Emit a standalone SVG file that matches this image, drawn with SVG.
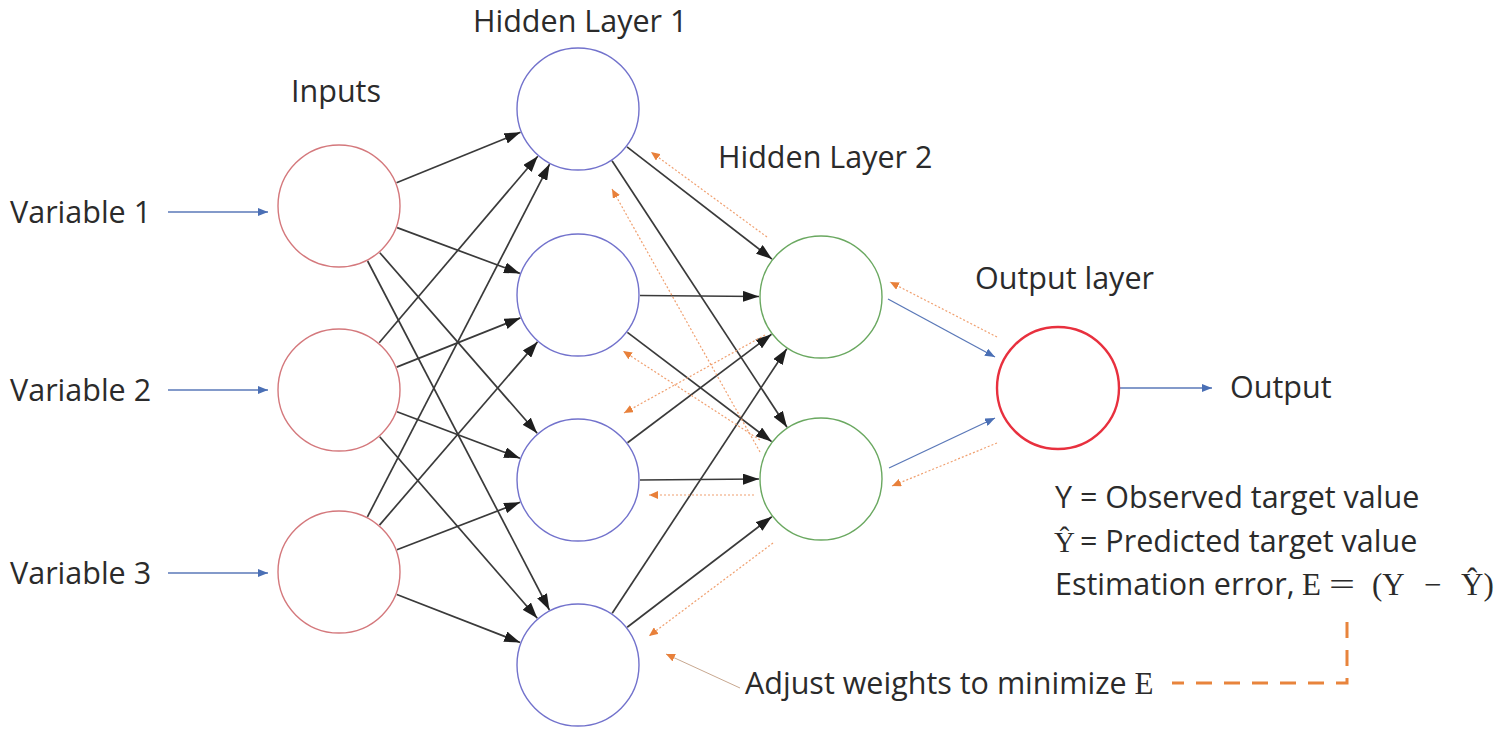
<svg xmlns="http://www.w3.org/2000/svg" width="1500" height="730" viewBox="0 0 1500 730">
<defs>
<style>
.t{font-family:"Open Sans","Liberation Sans",sans-serif;font-size:30.5px;fill:#2b2b2b}
.m{font-family:"Liberation Serif","DejaVu Serif",serif;font-size:31px;fill:#2b2b2b}
.in{fill:#fff;stroke:#d4787c;stroke-width:1.4}
.h1{fill:#fff;stroke:#7272cc;stroke-width:1.4}
.h2{fill:#fff;stroke:#6aa860;stroke-width:1.4}
.out{fill:#fff;stroke:#e8303e;stroke-width:2.4}
.bk{stroke:#3a3a3a;stroke-width:1.7;fill:none;marker-end:url(#ab)}
.bl{stroke:#5a78b8;stroke-width:1.3;fill:none;marker-end:url(#abl)}
.or{stroke:#f0a070;stroke-width:1.2;stroke-dasharray:2 2;fill:none;marker-end:url(#aor)}
.ors{stroke:#c8a890;stroke-width:1;fill:none;marker-end:url(#aor)}
.big{stroke:#e8843c;stroke-width:3;stroke-dasharray:16 12;fill:none}
</style>
<marker id="ab" markerUnits="userSpaceOnUse" markerWidth="16" markerHeight="11" refX="16" refY="5.5" orient="auto"><path d="M0,0 L16,5.5 L0,11 z" fill="#1e1e1e"/></marker>
<marker id="abl" markerUnits="userSpaceOnUse" markerWidth="10" markerHeight="8" refX="10" refY="4" orient="auto"><path d="M0,0 L10,4 L0,8 z" fill="#4a6fb5"/></marker>
<marker id="aor" markerUnits="userSpaceOnUse" markerWidth="9" markerHeight="8" refX="9" refY="4" orient="auto"><path d="M0,0 L9,4 L0,8 z" fill="#e8803a"/></marker>
</defs>
<rect width="1500" height="730" fill="#fff"/>

<g id="connectors">
<line class="bl" x1="168" y1="212" x2="268" y2="212"/>
<line class="bl" x1="168" y1="390" x2="268" y2="390"/>
<line class="bl" x1="168" y1="573" x2="268" y2="573"/>
<line class="bk" x1="396.5" y1="182.7" x2="520.5" y2="132.3"/>
<line class="bk" x1="397.1" y1="227.6" x2="519.9" y2="273.4"/>
<line class="bk" x1="379.8" y1="252.7" x2="537.2" y2="433.3"/>
<line class="bk" x1="367.6" y1="261" x2="549.4" y2="610"/>
<line class="bk" x1="379.2" y1="342.8" x2="537.8" y2="156.2"/>
<line class="bk" x1="396.6" y1="367.1" x2="520.4" y2="317.9"/>
<line class="bk" x1="397" y1="411.8" x2="520" y2="458.2"/>
<line class="bk" x1="379.7" y1="436.8" x2="537.3" y2="618.2"/>
<line class="bk" x1="367.4" y1="516.9" x2="549.6" y2="164.1"/>
<line class="bk" x1="379.5" y1="525.1" x2="537.5" y2="341.9"/>
<line class="bk" x1="396.9" y1="549.7" x2="520.1" y2="502.3"/>
<line class="bk" x1="396.8" y1="594.5" x2="520.2" y2="642.5"/>
<line class="bk" x1="627" y1="146.9" x2="772" y2="259.1"/>
<line class="bk" x1="612" y1="160.8" x2="787" y2="427.2"/>
<line class="bk" x1="640" y1="295.5" x2="759" y2="296.5"/>
<line class="bk" x1="627.4" y1="332.4" x2="771.6" y2="441.6"/>
<line class="bk" x1="627.5" y1="442.7" x2="771.5" y2="334.3"/>
<line class="bk" x1="640" y1="480" x2="759" y2="479"/>
<line class="bk" x1="612.2" y1="613.3" x2="786.8" y2="348.7"/>
<line class="bk" x1="627.2" y1="627.3" x2="771.8" y2="516.7"/>
<line class="bl" x1="888" y1="299" x2="995" y2="357"/>
<line class="bl" x1="889" y1="468" x2="995" y2="418"/>
<line class="bl" x1="1120" y1="388" x2="1212" y2="388"/>
<line class="or" x1="997" y1="337" x2="890" y2="282"/>
<line class="or" x1="997" y1="443" x2="892" y2="486"/>
<line class="or" x1="767" y1="237" x2="651" y2="152"/>
<line class="or" x1="765" y1="335" x2="624" y2="413"/>
<line class="or" x1="760" y1="452" x2="612" y2="189"/>
<line class="or" x1="760" y1="440" x2="623" y2="351"/>
<line class="or" x1="754" y1="495" x2="649" y2="495"/>
<line class="or" x1="773" y1="543" x2="649" y2="636"/>
<line class="ors" x1="740" y1="688" x2="666" y2="654"/>
<path class="big" d="M1347,622 L1347,683 L1172,683"/>
</g>

<g id="input1"><circle class="in" cx="339" cy="206" r="61"/></g>
<g id="input2"><circle class="in" cx="339" cy="390" r="61"/></g>
<g id="input3"><circle class="in" cx="339" cy="572" r="61"/></g>
<g id="hidden1-1"><circle class="h1" cx="578" cy="109" r="61"/></g>
<g id="hidden1-2"><circle class="h1" cx="578" cy="295" r="61"/></g>
<g id="hidden1-3"><circle class="h1" cx="578" cy="480" r="61"/></g>
<g id="hidden1-4"><circle class="h1" cx="578" cy="665" r="61"/></g>
<g id="hidden2-1"><circle class="h2" cx="821" cy="297" r="61"/></g>
<g id="hidden2-2"><circle class="h2" cx="821" cy="479" r="61"/></g>
<g id="output"><circle class="out" cx="1058" cy="388" r="61"/></g>

<g id="labels">
<text class="t" x="291" y="102">Inputs</text>
<text class="t" x="473" y="32">Hidden Layer 1</text>
<text class="t" x="718" y="168">Hidden Layer 2</text>
<text class="t" x="975" y="289">Output layer</text>
<text class="t" x="10" y="223">Variable 1</text>
<text class="t" x="10" y="401">Variable 2</text>
<text class="t" x="10" y="584">Variable 3</text>
<text class="t" x="1230" y="398">Output</text>
<text class="t" x="1055" y="508">Y = Observed target value</text>
<text class="m" x="1054" y="552" style="font-size:29px">Ŷ</text>
<text class="t" x="1080" y="552">= Predicted target value</text>
<text class="t" x="1055" y="595">Estimation error,</text>
<text class="m" x="1302" y="595">E</text>
<text class="m" x="1329" y="595" textLength="26" lengthAdjust="spacingAndGlyphs">=</text>
<text class="m" x="1372" y="595">(Y</text>
<text class="m" x="1424" y="595">−</text>
<text class="m" x="1461" y="595">Ŷ)</text>
<text class="t" x="745" y="694">Adjust weights to minimize <tspan style="font-family:'Liberation Serif',serif;font-size:31px">E</tspan></text>
</g>
</svg>
